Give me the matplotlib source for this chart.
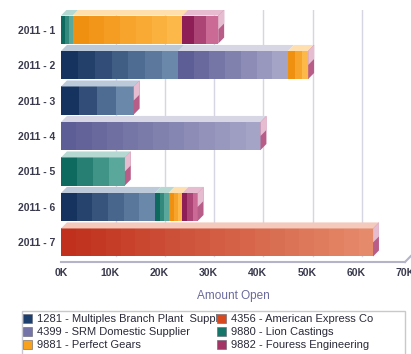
import numpy as np
import matplotlib
matplotlib.use('Agg')
import matplotlib.pyplot as plt
from matplotlib.colors import LinearSegmentedColormap, to_rgb
from matplotlib.patches import Polygon, Patch, Rectangle

plt.rcParams['font.family'] = ['Liberation Sans', 'DejaVu Sans']

periods = ['2011 - 1', '2011 - 2', '2011 - 3', '2011 - 4', '2011 - 5', '2011 - 6', '2011 - 7']
suppliers = ['1281 - Multiples Branch Plant  Suppl', '4356 - American Express Co',
             '4399 - SRM Domestic Supplier', '9880 - Lion Castings',
             '9881 - Perfect Gears', '9882 - Fouress Engineering']
# amount open in thousands
amt_1281 = [0, 23.9, 14.8, 0, 0, 19.1, 0]
amt_4356 = [0, 0, 0, 0, 0, 0, 63.5]
amt_4399 = [0, 22.3, 0, 40.6, 0, 0, 0]
amt_9880 = [2.4, 0, 0, 0, 13.0, 2.8, 0]
amt_9881 = [22.3, 4.1, 0, 0, 0, 2.8, 0]
amt_9882 = [7.3, 0, 0, 0, 0, 3.1, 0]
series = [amt_1281, amt_4356, amt_4399, amt_9880, amt_9881, amt_9882]

# dark -> light for each supplier
colors = [('#16325f', '#6a88aa'), ('#c0301c', '#e58a6a'), ('#5e5e96', '#a4a4c6'),
          ('#0e6a5e', '#5aa89c'), ('#f09010', '#fcb848'), ('#8e1e56', '#cc6a96')]
legend_col = ['#1d3f6e', '#d9491f', '#7474a8', '#17766a', '#f7a11c', '#a43466']

fig = plt.figure(figsize=(4.11, 3.54), dpi=100)
ax = fig.add_axes([61/411, (354-262)/354, 344/411, 252/354])
ax.set_xlim(0, 70)
ax.set_ylim(6.55, -0.55)

h = 0.79
dx, dy = 1.2, 0.17

def mix(c, f):
    r = np.array(to_rgb(c))
    return tuple(r + (1 - r) * f)

# grid (shifted back for depth)
for g in range(10, 71, 10):
    ax.plot([g + dx, g + dx], [6.55 - dy, -0.55], color='#d6d6e2', lw=1, zorder=0)
ax.plot([0, 70], [6.55, 6.55], color='#b4b4c8', lw=1.5, zorder=1, clip_on=False)
ax.plot([70, 70 + dx], [6.55, 6.55 - dy], color='#b4b4c8', lw=1.5, zorder=1, clip_on=False)

ypos = np.arange(len(periods))
left = np.zeros(len(periods))
ends = np.zeros(len(periods))
for vals, (c0, c1), lc in zip(series, colors, legend_col):
    vals = np.array(vals)
    bars = ax.barh(ypos, vals, left=left, height=h, color=lc, lw=0, zorder=2)
    cmap = LinearSegmentedColormap.from_list('g', [c0, c1])
    for b, v, l, y in zip(bars, vals, left, ypos):
        if v <= 0:
            continue
        nb = max(3, int(v / 3))
        grad = np.linspace(0, 1, nb)[None, :]
        im = ax.imshow(grad, cmap=cmap, aspect='auto', interpolation='nearest',
                       extent=[l, l + v, y + h/2, y - h/2], zorder=3)
        im.set_clip_path(b)
        top = y - h/2
        ax.add_patch(Polygon([(l, top), (l + v, top), (l + v + dx, top - dy), (l + dx, top - dy)],
                             closed=True, fc=mix(c1, 0.55), ec='none', zorder=3))
    ends = np.maximum(ends, np.where(vals > 0, left + vals, 0))
    left = left + vals

# end caps
for y, e in zip(ypos, ends):
    top = y - h/2
    ax.add_patch(Polygon([(e, top), (e + dx, top - dy), (e + dx, y + h/2 - dy), (e, y + h/2)],
                         closed=True, fc='#b85c88', ec='none', zorder=3))
    ax.add_patch(Polygon([(e, top), (e + dx, top - dy), (e + dx, y - dy), (e, y)],
                         closed=True, fc='#e6bcd0', ec='none', zorder=3))

ax.set_yticks(ypos)
ax.set_yticklabels(periods, fontsize=7.5, fontweight='bold', color='#3a3a4e')
ax.set_xticks(range(0, 71, 10))
ax.set_xticklabels([f'{t}K' for t in range(0, 71, 10)], fontsize=7.5, fontweight='bold', color='#3a3a4e')
ax.tick_params(length=0, pad=4)
for s in ax.spines.values():
    s.set_visible(False)
ax.set_xlabel('Amount Open', fontsize=8.5, color='#6a6a9c', labelpad=9)

# legend frame runs past the bottom edge
fig.patches.append(Rectangle((22/411, -0.05), 383/411, 0.05 + (354-311)/354,
                             transform=fig.transFigure, fill=False,
                             edgecolor='#c8c8d0', lw=1))
order = [0, 2, 4, 1, 3, 5]
handles = [Patch(facecolor=legend_col[i], edgecolor='#606070', lw=0.4) for i in order]
labels = [suppliers[i] for i in order]
leg = fig.legend(handles, labels, ncol=2, loc='upper left',
                 bbox_to_anchor=(23/411, 1 - 314/354), fontsize=8,
                 frameon=False, borderpad=0, borderaxespad=0,
                 handlelength=0.85, handleheight=0.85, handletextpad=0.4,
                 labelspacing=0.25, columnspacing=-0.1)
for t in leg.get_texts():
    t.set_color('#2a2a3a')

fig.savefig('out.png', dpi=100)
